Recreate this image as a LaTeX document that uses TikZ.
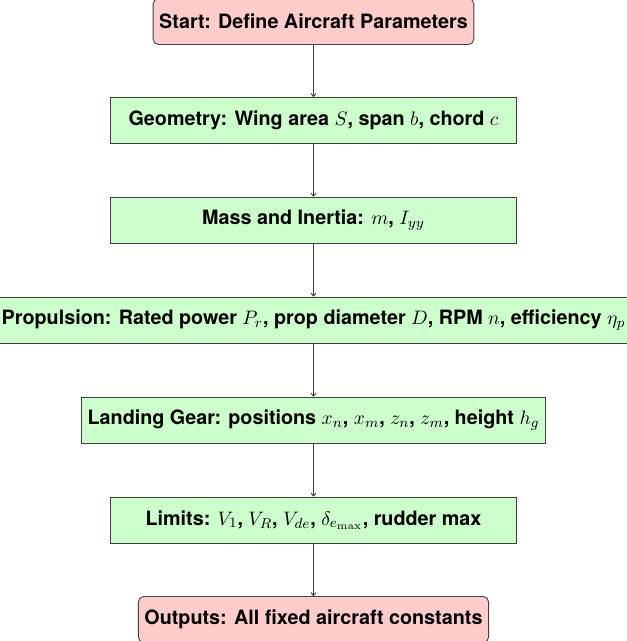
\documentclass[tikz,border=0pt]{standalone}
\usepackage[no-math]{fontspec}
\setmainfont{TeX Gyre Heros}
\usetikzlibrary{arrows.meta}
\definecolor{boxgreen}{HTML}{CCFFCC}
\definecolor{boxpink}{HTML}{FFCCCC}
\definecolor{linegray}{HTML}{404040}
\tikzset{
  base/.style={draw=linegray, line width=0.5pt, font=\bfseries\fontsize{11.1}{13}\selectfont, minimum height=25.8pt, inner xsep=3.4pt, text=black},
  endbox/.style={base, fill=boxpink, rounded corners=3pt},
  stepbox/.style={base, fill=boxgreen, minimum width=228pt},
  flow/.style={draw=linegray, line width=0.5pt, -{To[length=2.2pt,width=3.2pt]}},
}
\begin{document}
\begin{tikzpicture}[x=0.5618pt,y=-0.5618pt]
\useasboundingbox (0,0) rectangle (627,641);
\node[endbox] (start) at (313.5,21.5) {Start: Define Aircraft Parameters};
\node[stepbox] (geom) at (313.5,120.5) {Geometry: Wing area $S$, span $b$, chord $c$};
\node[stepbox] (mass) at (313.5,220) {Mass and Inertia: $m$, $I_{yy}$};
\node[stepbox] (prop) at (313.5,320) {Propulsion: Rated power $P_r$, prop diameter $D$, RPM $n$, efficiency $\eta_p$};
\node[stepbox] (gear) at (313.5,420) {Landing Gear: positions $x_n$, $x_m$, $z_n$, $z_m$, height $h_g$};
\node[stepbox] (lim) at (313.5,520) {Limits: $V_1$, $V_R$, $V_{de}$, $\delta_{e_{\max}}$, rudder max};
\node[endbox] (out) at (313.5,619.5) {Outputs: All fixed aircraft constants};
\draw[flow] (start) -- (geom);
\draw[flow] (geom) -- (mass);
\draw[flow] (mass) -- (prop);
\draw[flow] (prop) -- (gear);
\draw[flow] (gear) -- (lim);
\draw[flow] (lim) -- (out);
\end{tikzpicture}
\end{document}
